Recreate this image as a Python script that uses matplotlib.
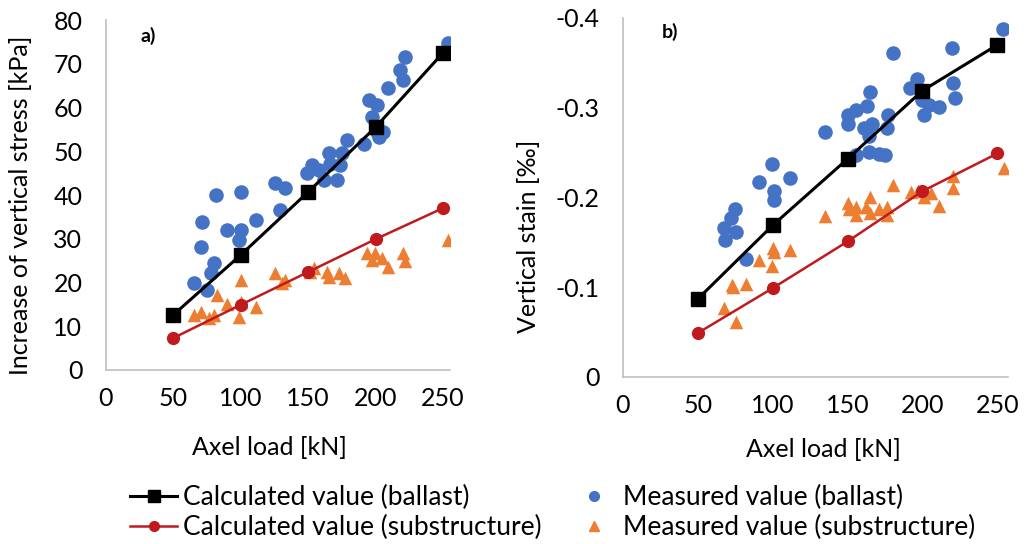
import numpy as np
import matplotlib
matplotlib.use('Agg')
import matplotlib.pyplot as plt
from matplotlib.lines import Line2D

plt.rcParams['font.family'] = ['Lato', 'DejaVu Sans']

# calculated values (same loads for both panels)
load_calc = [50, 100, 150, 200, 250]
stress_calc_ballast = [12.6, 26.3, 40.7, 55.5, 72.5]
stress_calc_sub = [7.3, 14.9, 22.4, 29.9, 37.0]
strain_calc_ballast = [-0.087, -0.169, -0.243, -0.319, -0.370]
strain_calc_sub = [-0.049, -0.099, -0.151, -0.207, -0.249]

# a) measured stress, ballast
stress_meas_ballast_x = [65.3, 75.2, 77.7, 80.1, 70.3, 71.5, 81.4, 90.0, 99.9, 98.6,
                         99.9, 111.0, 125.7, 133.0, 129.4, 149.2, 152.9, 157.8, 161.5, 165.2,
                         166.4, 171.4, 173.8, 175.0, 178.8, 191.1, 194.8, 201.0, 197.3, 201.0,
                         205.9, 202.2, 209.5, 218.2, 220.6, 221.9, 253.9]
stress_meas_ballast_y = [19.8, 18.3, 22.1, 24.4, 28.2, 33.9, 40.0, 32.0, 32.0, 29.7,
                         40.8, 34.3, 42.8, 41.7, 36.6, 45.0, 46.9, 45.7, 43.4, 49.5,
                         47.2, 43.4, 46.9, 49.5, 52.6, 51.7, 61.7, 60.6, 57.9, 54.5,
                         54.5, 53.3, 64.4, 68.6, 66.3, 71.6, 74.7]

# a) measured stress, substructure
stress_meas_sub_x = [65.3, 70.3, 76.4, 80.1, 82.6, 90.0, 99.9, 99.9, 98.6, 111.0,
                     125.7, 130.7, 133.1, 151.6, 154.1, 164.0, 165.2, 172.6, 177.5, 193.6,
                     197.3, 199.7, 204.7, 209.5, 220.6, 221.9, 253.9]
stress_meas_sub_y = [12.6, 13.3, 11.8, 12.6, 17.1, 15.1, 20.6, 15.6, 12.2, 14.5,
                     22.1, 19.8, 20.6, 22.5, 23.2, 22.5, 21.3, 22.1, 21.0, 26.7,
                     25.1, 26.7, 25.5, 23.6, 26.7, 24.8, 29.7]

# b) measured strain, ballast
strain_meas_ballast_x = [67.3, 68.2, 72.4, 74.7, 75.3, 82.4, 90.9, 99.6, 100.7, 100.7,
                         111.8, 134.9, 150.2, 150.2, 155.8, 155.8, 163.1, 165.1, 161.3, 166.4,
                         164.2, 164.2, 171.3, 174.7, 176.2, 177.1, 180.2, 192.0, 196.4, 199.8,
                         201.3, 204.7, 210.9, 219.8, 220.7, 222.0, 253.6]
strain_meas_ballast_y = [-0.166, -0.153, -0.177, -0.187, -0.162, -0.132, -0.217, -0.237, -0.207, -0.197,
                         -0.222, -0.273, -0.292, -0.282, -0.298, -0.247, -0.302, -0.317, -0.277, -0.282,
                         -0.268, -0.251, -0.248, -0.247, -0.277, -0.292, -0.361, -0.322, -0.332, -0.309,
                         -0.292, -0.303, -0.301, -0.366, -0.327, -0.311, -0.388]

# b) measured strain, substructure
strain_meas_sub_x = [67.3, 75.3, 73.1, 73.6, 82.4, 90.9, 99.6, 100.2, 100.7, 111.8,
                     134.9, 150.2, 150.9, 155.8, 155.3, 162.4, 164.7, 165.1, 171.3, 176.2,
                     176.2, 180.2, 192.4, 196.9, 201.3, 205.8, 210.9, 220.2, 220.7, 254.2]
strain_meas_sub_y = [-0.077, -0.061, -0.102, -0.100, -0.104, -0.130, -0.124, -0.144, -0.139, -0.141,
                     -0.179, -0.194, -0.187, -0.189, -0.180, -0.189, -0.200, -0.183, -0.187, -0.189,
                     -0.180, -0.214, -0.206, -0.207, -0.201, -0.205, -0.190, -0.224, -0.211, -0.233]

x_ticks = [0, 50, 100, 150, 200, 250]
stress_ticks = [0, 10, 20, 30, 40, 50, 60, 70, 80]
strain_ticks = [0, -0.1, -0.2, -0.3, -0.4]
strain_tick_labels = ['0', '-0.1', '-0.2', '-0.3', '-0.4']

c_black = '#000000'
c_red = '#C0191E'
c_blue = '#4472C4'
c_orange = '#ED7D31'
c_spine = '#BFBFBF'
fs = 18

fig = plt.figure(figsize=(10.29, 5.44), dpi=100)
ax1 = fig.add_axes([0.103, 0.320, 0.334, 0.643])
ax2 = fig.add_axes([0.6054, 0.307, 0.374, 0.660])


def style_axes(ax):
    for s in ['top', 'right']:
        ax.spines[s].set_visible(False)
    for s in ['left', 'bottom']:
        ax.spines[s].set_color(c_spine)
        ax.spines[s].set_linewidth(1.2)
    ax.tick_params(length=0, labelsize=fs)
    ax.tick_params(axis='y', pad=17)
    ax.tick_params(axis='x', pad=12)
    ax.set_xticks(x_ticks)


# panel a
ax1.scatter(stress_meas_ballast_x, stress_meas_ballast_y, s=110, color=c_blue, zorder=2, linewidths=0)
ax1.scatter(stress_meas_sub_x, stress_meas_sub_y, s=95, marker='^', color=c_orange, zorder=2, linewidths=0)
ax1.plot(load_calc, stress_calc_ballast, color=c_black, lw=2.2, marker='s', ms=10, zorder=3)
ax1.plot(load_calc, stress_calc_sub, color=c_red, lw=1.8, marker='o', ms=8.5, zorder=3)
style_axes(ax1)
ax1.set_xlim(0, 255)
ax1.set_ylim(0, 80)
ax1.set_yticks(stress_ticks)
ax1.set_xlabel('Axel load [kN]', fontsize=fs)
ax1.set_ylabel('Increase of vertical stress [kPa]', fontsize=fs)
ax1.xaxis.set_label_coords(0.477, -0.19)
ax1.yaxis.set_label_coords(-0.215, 0.47)
ax1.text(0.1, 0.98, 'a)', transform=ax1.transAxes, fontsize=14, fontweight='bold', va='top')

# panel b
ax2.scatter(strain_meas_ballast_x, strain_meas_ballast_y, s=110, color=c_blue, zorder=2, linewidths=0)
ax2.scatter(strain_meas_sub_x, strain_meas_sub_y, s=95, marker='^', color=c_orange, zorder=2, linewidths=0)
ax2.plot(load_calc, strain_calc_ballast, color=c_black, lw=2.2, marker='s', ms=10, zorder=3)
ax2.plot(load_calc, strain_calc_sub, color=c_red, lw=1.8, marker='o', ms=8.5, zorder=3)
style_axes(ax2)
ax2.set_xlim(0, 257)
ax2.set_ylim(0, -0.4)
ax2.set_yticks(strain_ticks)
ax2.set_yticklabels(strain_tick_labels)
ax2.set_xlabel('Axel load [kN]', fontsize=fs)
ax2.set_ylabel('Vertical stain [‰]', fontsize=fs)
ax2.xaxis.set_label_coords(0.52, -0.17)
ax2.yaxis.set_label_coords(-0.216, 0.393)
ax2.text(0.1, 0.985, 'b)', transform=ax2.transAxes, fontsize=14, fontweight='bold', va='top')

handles = [
    Line2D([], [], color=c_black, lw=2.2, marker='s', ms=8),
    Line2D([], [], color=c_red, lw=1.8, marker='o', ms=7),
    Line2D([], [], color=c_blue, lw=0, marker='o', ms=7),
    Line2D([], [], color=c_orange, lw=0, marker='^', ms=7),
]
labels = ['Calculated value (ballast)', 'Calculated value (substructure)',
          'Measured value (ballast)', 'Measured value (substructure)']
fig.legend(handles, labels, ncol=2, loc='center', bbox_to_anchor=(0.537, 0.058),
           frameon=False, fontsize=19, handlelength=1.8, handletextpad=0.2,
           columnspacing=1.1, labelspacing=0.2, borderpad=0.1)

fig.savefig('out.png', dpi=100)
